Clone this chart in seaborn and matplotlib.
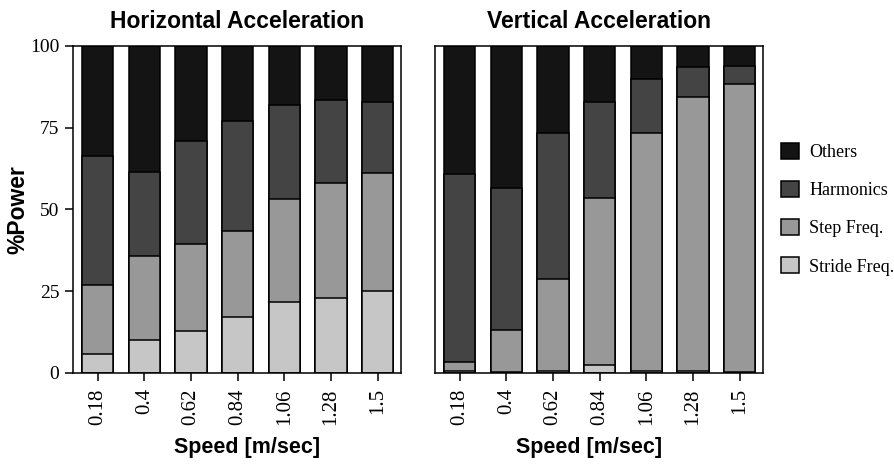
import numpy as np
import pandas as pd
import matplotlib
matplotlib.use("Agg")
import matplotlib.pyplot as plt
from matplotlib.patches import Patch
import seaborn as sns

# speeds on the x axis
speeds = ["0.18", "0.4", "0.62", "0.84", "1.06", "1.28", "1.5"]

# % power per component, horizontal acceleration
h_stride = [5.8, 10.1, 12.8, 17.2, 21.6, 22.9, 25.2]
h_step = [21.0, 25.8, 26.7, 26.3, 31.6, 35.2, 35.8]
h_harm = [39.6, 25.4, 31.5, 33.6, 28.6, 25.3, 21.8]

# % power per component, vertical acceleration
v_stride = [0.5, 0.3, 0.5, 2.5, 0.5, 0.5, 0.3]
v_step = [2.8, 12.9, 28.2, 51.0, 72.9, 83.8, 88.0]
v_harm = [57.6, 43.3, 44.6, 29.3, 16.6, 9.1, 5.6]

components = ["Stride Freq.", "Step Freq.", "Harmonics", "Others"]
colors = {"Stride Freq.": "#c6c6c6", "Step Freq.": "#989898",
          "Harmonics": "#444444", "Others": "#141414"}

serif = "Liberation Serif"
sans = "Liberation Sans"

sns.set_style("white")
plt.rcParams["font.family"] = [sans, "DejaVu Sans"]
plt.rcParams.update({"text.color": "black", "axes.labelcolor": "black",
                     "xtick.color": "black", "ytick.color": "black"})


def make_frame(stride, step, harm):
    df = pd.DataFrame({"speed": speeds, "Stride Freq.": stride,
                       "Step Freq.": step, "Harmonics": harm})
    df["Others"] = 100 - df[["Stride Freq.", "Step Freq.", "Harmonics"]].sum(axis=1)
    # cumulative tops for the overlay stacking
    cum = df[components].cumsum(axis=1)
    cum["speed"] = df["speed"]
    return cum


fig = plt.figure(figsize=(8.95, 4.68), dpi=100)
ax1 = fig.add_axes([0.0816, 0.203, 0.3665, 0.699])
ax2 = fig.add_axes([0.486, 0.203, 0.3665, 0.699])

panels = [(ax1, make_frame(h_stride, h_step, h_harm), "Horizontal Acceleration", 0.53),
          (ax2, make_frame(v_stride, v_step, v_harm), "Vertical Acceleration", 0.47)]

for ax, cum, title, lab_x in panels:
    # draw tallest first so shorter layers sit on top
    for comp in components[::-1]:
        sns.barplot(data=cum, x="speed", y=comp, order=speeds, color=colors[comp],
                    width=0.67, edgecolor="black", linewidth=1.1, saturation=1,
                    ax=ax)
    ax.set_xlim(-0.53, 6.5)
    ax.set_ylim(0, 100)
    ax.set_title(title, fontsize=16.5, fontweight="bold", family=sans, pad=13)
    ax.set_xlabel("Speed [m/sec]", fontsize=15.5, fontweight="bold", family=sans,
                  labelpad=9)
    ax.xaxis.label.set_x(lab_x)
    ax.set_ylabel("")
    for sp in ax.spines.values():
        sp.set_visible(True)
        sp.set_color("black")
        sp.set_linewidth(1.1)
    ax.tick_params(axis="x", direction="out", length=6, width=1.1, bottom=True,
                   color="black", pad=5)
    ax.set_xticks(range(len(speeds)))
    ax.set_xticklabels(speeds, rotation=90, family=serif, fontsize=15)

ax1.set_yticks([0, 25, 50, 75, 100])
ax1.set_yticklabels(["0", "25", "50", "75", "100"], family=serif, fontsize=14)
ax1.tick_params(axis="y", direction="out", length=6, width=1.1, left=True,
                color="black", pad=4)
ax1.set_ylabel("%Power", fontsize=16.5, fontweight="bold", family=sans, labelpad=0)
ax2.set_yticks([])

handles = [Patch(facecolor=colors[c], edgecolor="black", linewidth=1.1, label=c)
           for c in components[::-1]]
fig.legend(handles=handles, loc="center left", bbox_to_anchor=(0.873, 0.553),
           frameon=False, prop={"family": serif, "size": 13},
           handlelength=1.0, handleheight=1.0, labelspacing=1.1, handletextpad=0.55,
           borderpad=0, borderaxespad=0)

fig.savefig("out.png", dpi=100)
